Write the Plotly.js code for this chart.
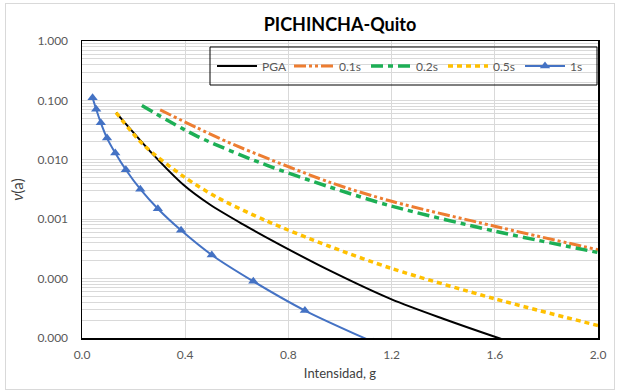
<!DOCTYPE html>
<html>
<head>
<meta charset="utf-8">
<script src="https://cdn.plot.ly/plotly-3.0.1.min.js"></script>
<style>
  html, body { margin: 0; padding: 0; background: #fff; }
  #wrap { position: relative; width: 618px; height: 391px; }
  #chart { width: 618px; height: 391px; }
  #frame { position: absolute; left: 5px; top: 3px; width: 608px; height: 385px;
           border: 1px solid #d9d9d9; pointer-events: none; }
</style>
</head>
<body>
<div id="wrap"><div id="chart"></div><div id="frame"></div></div>
<script>
// ---- data ----
const seriesNames = ['PGA', '0.1s', '0.2s', '0.5s', '1s'];

const pgaX = [0.132, 0.277, 0.393, 0.497, 0.626, 0.768, 0.961, 1.2, 1.4, 1.6, 1.8, 2.0];
const pgaY = [0.0624, 0.0121, 0.0038, 0.00175, 0.00081, 0.00037, 0.000136, 0.0000447, 0.0000211, 0.0000105, 0.0000054, 0.0000028];

const s01X = [0.303, 0.445, 0.574, 0.961, 1.2, 1.6, 2.0];
const s01Y = [0.0692, 0.0347, 0.0191, 0.00417, 0.0020, 0.00076, 0.000305];

const s02X = [0.232, 0.445, 0.703, 0.961, 1.2, 1.6, 2.0];
const s02Y = [0.0818, 0.0251, 0.00851, 0.00347, 0.00166, 0.00063, 0.000275];

const s05X = [0.132, 0.2385, 0.393, 0.523, 0.716, 0.961, 1.2, 1.6, 2.0];
const s05Y = [0.0624, 0.0178, 0.00525, 0.00234, 0.00093, 0.000347, 0.000148, 0.0000457, 0.0000162];

const s1X = [0.041, 0.055, 0.073, 0.097, 0.129, 0.170, 0.226, 0.294, 0.384, 0.503, 0.664, 0.864, 1.13];
const s1Y = [0.111, 0.071, 0.042, 0.0232, 0.013, 0.0068, 0.0032, 0.0015, 0.00065, 0.00025, 0.000090, 0.000029, 0.0000085];

const xTickStep = 0.4;

const FONT = 'Lato, "Liberation Sans", sans-serif';

const traces = [
  { x: pgaX, y: pgaY, name: seriesNames[0], mode: 'lines',
    line: { color: '#000000', width: 2, shape: 'spline', smoothing: 0.8 } },
  { x: s01X, y: s01Y, name: seriesNames[1], mode: 'lines',
    line: { color: '#ED7D31', width: 3, shape: 'spline', smoothing: 0.8, dash: '12px,3px,3px,3px,3px,3px' } },
  { x: s02X, y: s02Y, name: seriesNames[2], mode: 'lines',
    line: { color: '#1DAF55', width: 3.5, shape: 'spline', smoothing: 0.8, dash: '12px,5px,5px,5px' } },
  { x: s05X, y: s05Y, name: seriesNames[3], mode: 'lines',
    line: { color: '#FFC000', width: 3.5, shape: 'spline', smoothing: 0.8, dash: '5px,4px' } },
  { x: s1X, y: s1Y, name: seriesNames[4], mode: 'lines+markers',
    line: { color: '#4472C4', width: 2, shape: 'spline', smoothing: 0.8 },
    marker: { symbol: 'triangle-up', size: 9, color: '#4472C4' } }
];

const plotL = 82, plotR = 598, plotT = 41, plotB = 338;
const pw = plotR - plotL, ph = plotB - plotT;
const px = v => (v - plotL) / pw;
const py = v => (plotB - v) / ph;

const layout = {
  width: 618, height: 391,
  margin: { l: plotL, r: 618 - plotR, t: plotT, b: 391 - plotB },
  paper_bgcolor: '#ffffff', plot_bgcolor: '#ffffff',
  font: { family: FONT, color: '#595959', size: 12 },
  title: { text: '<b>PICHINCHA-Quito</b>', x: 0.5, xref: 'paper', xanchor: 'center',
           y: 1 - 25 / 391, yref: 'container', yanchor: 'middle',
           font: { family: FONT, size: 18, color: '#000000' } },
  xaxis: {
    range: [0, 2], dtick: xTickStep, tick0: 0, tickformat: '.1f',
    showgrid: true, gridcolor: '#d9d9d9', gridwidth: 1,
    showline: true, mirror: true, linecolor: '#000000', linewidth: 1.5,
    zeroline: false, ticks: 'outside', ticklen: 5, tickcolor: 'rgba(0,0,0,0)',
    tickfont: { family: FONT, size: 12, color: '#595959' },
    title: { text: 'Intensidad, g', standoff: 8, font: { family: FONT, size: 13, color: '#404040' } }
  },
  yaxis: {
    type: 'log', range: [-5, 0], dtick: 1, tickformat: '.3f',
    showgrid: true, gridcolor: '#d9d9d9', gridwidth: 1,
    minor: { dtick: 'D1', showgrid: true, gridcolor: '#d9d9d9', gridwidth: 1, ticks: '' },
    showline: true, mirror: true, linecolor: '#000000', linewidth: 1.5,
    zeroline: false, ticks: 'outside', ticklen: 10, tickcolor: 'rgba(0,0,0,0)',
    tickfont: { family: FONT, size: 12, color: '#595959' },
    title: { text: '<i>ν</i>(a)', standoff: 10, font: { family: FONT, size: 15, color: '#404040' } }
  },
  showlegend: true,
  legend: {
    orientation: 'h', x: px(212), y: py(66), xanchor: 'left', yanchor: 'middle',
    bgcolor: 'rgba(0,0,0,0)', borderwidth: 0, itemwidth: 40, tracegroupgap: 0,
    entrywidth: 22,
    font: { family: FONT, size: 12, color: '#595959' }
  },
  shapes: [
    { type: 'rect', xref: 'paper', yref: 'paper', x0: px(210), x1: px(597), y0: py(85), y1: py(47),
      line: { color: '#000000', width: 1 }, fillcolor: 'rgba(0,0,0,0)', layer: 'above' }
  ]
};

Plotly.newPlot('chart', traces, layout, { displayModeBar: false, staticPlot: true });
</script>
</body>
</html>
